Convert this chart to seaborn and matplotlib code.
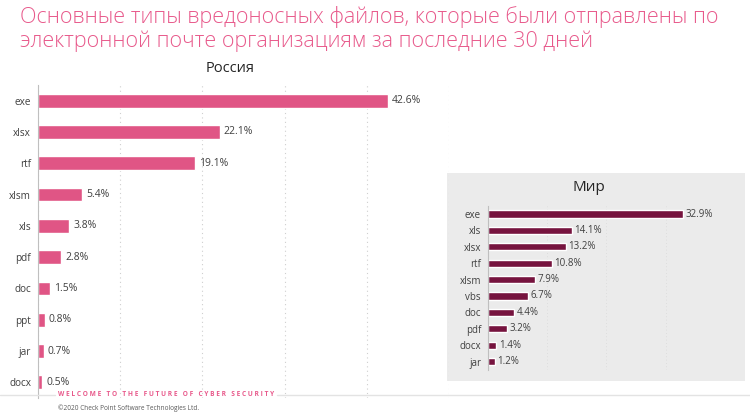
import matplotlib.pyplot as plt
import matplotlib.patches as mpatches
from matplotlib.ticker import FixedLocator, MultipleLocator
import numpy as np
import pandas as pd
import seaborn as sns

# Russia
ru_types = ["exe", "xlsx", "rtf", "xlsm", "xls", "pdf", "doc", "ppt", "jar", "docx"]
ru_share = [42.6, 22.1, 19.1, 5.4, 3.8, 2.8, 1.5, 0.8, 0.7, 0.5]

# World
world_types = ["exe", "xls", "xlsx", "rtf", "xlsm", "vbs", "doc", "pdf", "docx", "jar"]
world_share = [32.9, 14.1, 13.2, 10.8, 7.9, 6.7, 4.4, 3.2, 1.4, 1.2]

title = ("Основные типы вредоносных файлов, которые были отправлены по\n"
         "электронной почте организациям за последние 30 дней")

sns.set_style("white")
plt.rcParams['font.family'] = ['Open Sans', 'DejaVu Sans']

W, H = 750, 416
fig = plt.figure(figsize=(W / 100, H / 100), dpi=100)
fig.patch.set_facecolor("white")


def px(x0, y0, x1, y1):
    # pixel box (top-left origin) -> figure fraction rect
    return [x0 / W, 1 - y1 / H, (x1 - x0) / W, (y1 - y0) / H]


def draw(ax, types, share, color, xmax, fs_tick, fs_val):
    df = pd.DataFrame({"type": types, "share": share})
    sns.barplot(data=df, y="type", x="share", color=color, width=0.44,
                saturation=1, ax=ax, orient="h")
    ax.set_xlim(0, xmax)
    ax.set_ylim(len(types) - 0.5, -0.5)
    ax.set_xlabel("")
    ax.set_ylabel("")
    ax.set_facecolor("none")
    ax.xaxis.set_major_locator(MultipleLocator(10))
    ax.set_xticklabels([])
    ax.tick_params(axis="x", length=0)
    ax.grid(axis="x", color="#cfcfcf", linestyle=(0, (1, 3)), linewidth=0.8)
    ax.tick_params(axis="y", which="major", length=0, labelsize=fs_tick,
                   labelcolor="#404040", pad=5)
    ax.yaxis.set_minor_locator(FixedLocator(np.arange(-0.5, len(types))))
    ax.tick_params(axis="y", which="minor", length=3, color="#bfbfbf")
    for s in ["top", "right", "bottom"]:
        ax.spines[s].set_visible(False)
    ax.spines["left"].set_color("#bfbfbf")
    for p, v in zip(ax.patches, share):
        ax.text(p.get_width() + xmax * 0.01, p.get_y() + p.get_height() / 2,
                f"{v}%", va="center", ha="left", fontsize=fs_val, color="#404040")


# title
fig.text(20 / W, 1 - 6 / H, title, ha="left", va="top", fontsize=15.5,
         color="#e8598b", linespacing=1.18, fontweight="light")

# left panel
ax1 = fig.add_axes(px(38, 85, 449, 398))
draw(ax1, ru_types, ru_share, "#e05585", 50, 7.2, 7.5)
fig.text(230 / W, 1 - 68 / H, "Россия", ha="center", va="center",
         fontsize=10.5, color="#262626")

# right panel background
fig.patches.append(mpatches.Rectangle((447 / W, 1 - 381 / H), 298 / W, 208 / H,
                                      transform=fig.transFigure,
                                      facecolor="#ebebeb", edgecolor="none",
                                      zorder=-1))
ax2 = fig.add_axes(px(488, 205.8, 725, 369.8))
draw(ax2, world_types, world_share, "#76133e", 40, 7, 7)
ax2.grid(axis="x", color="#d9d9d9", linestyle=(0, (1, 3)), linewidth=0.6)
fig.text(589 / W, 1 - 187 / H, "Мир", ha="center", va="center",
         fontsize=11, color="#262626")

# footer
fig.add_artist(plt.Line2D([0, 55 / W], [1 - 395 / H] * 2, color="#e3e3e3", lw=1))
fig.add_artist(plt.Line2D([277 / W, 1], [1 - 395 / H] * 2, color="#e3e3e3", lw=1))
fig.text(58 / W, 1 - 395 / H, "W E L C O M E   T O   T H E   F U T U R E   O F   C Y B E R   S E C U R I T Y",
         ha="left", va="center", fontsize=4.7, color="#e8598b", fontweight="bold")
fig.text(58 / W, 1 - 408 / H, "©2020 Check Point Software Technologies Ltd.",
         ha="left", va="center", fontsize=4.7, color="#595959")

fig.savefig("out.png", dpi=100)
